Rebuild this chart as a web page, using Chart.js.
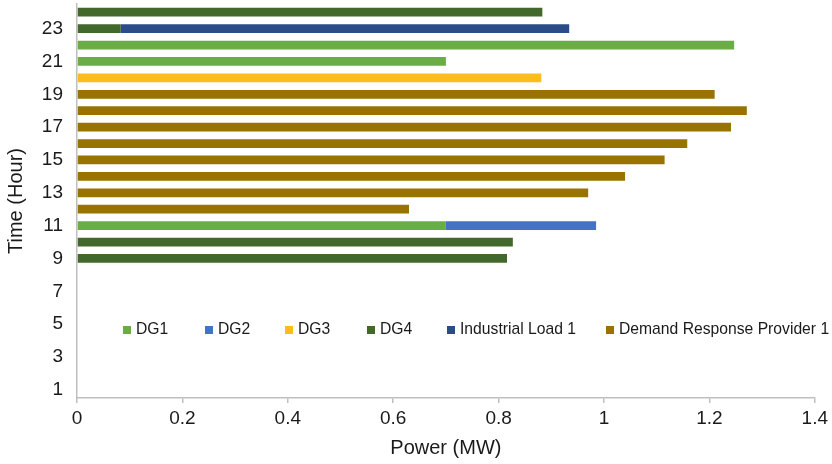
<!DOCTYPE html>
<html>
<head>
<meta charset="utf-8">
<script src="https://cdn.jsdelivr.net/npm/chart.js@4.4.1/dist/chart.umd.min.js"></script>
<style>
  html, body { margin: 0; padding: 0; background: #ffffff; }
  #wrap { width: 832px; height: 464px; position: relative; }
</style>
</head>
<body>
<div id="wrap"><canvas id="c" width="832" height="464"></canvas></div>
<script>
// ---- Data ----
const hours = ['1','2','3','4','5','6','7','8','9','10','11','12','13','14','15','16','17','18','19','20','21','22','23','24'];
const yTickLabels = ['1','3','5','7','9','11','13','15','17','19','21','23'];
const seriesNames = ['DG1', 'DG2', 'DG3', 'DG4', 'Industrial Load 1', 'Demand Response Provider 1'];
//               1     2     3     4     5     6     7     8     9      10     11     12     13     14     15     16     17     18     19     20     21     22     23     24
const dg1  = [null, null, null, null, null, null, null, null, null,  null,  0.700, null,  null,  null,  null,  null,  null,  null,  null,  null,  0.700, 1.247, null,  null ];
const dg2  = [null, null, null, null, null, null, null, null, null,  null,  0.285, null,  null,  null,  null,  null,  null,  null,  null,  null,  null,  null,  null,  null ];
const dg3  = [null, null, null, null, null, null, null, null, null,  null,  null,  null,  null,  null,  null,  null,  null,  null,  null,  0.881, null,  null,  null,  null ];
const dg4  = [null, null, null, null, null, null, null, null, 0.816, 0.827, null,  null,  null,  null,  null,  null,  null,  null,  null,  null,  null,  null,  0.083, 0.883];
const ind1 = [null, null, null, null, null, null, null, null, null,  null,  null,  null,  null,  null,  null,  null,  null,  null,  null,  null,  null,  null,  0.851, null ];
const drp1 = [null, null, null, null, null, null, null, null, null,  null,  null,  0.630, 0.970, 1.040, 1.115, 1.158, 1.241, 1.271, 1.210, null,  null,  null,  null,  null ];

const colors = ['#6AAC45', '#4472C4', '#FCBC1E', '#43682B', '#2C4C88', '#997300'];
const seriesValues = [dg1, dg2, dg3, dg4, ind1, drp1];

const FONT = "'Liberation Sans', Arial, Helvetica, sans-serif";
const TEXT = '#1a1a1a';
const AXIS = '#BFBFBF';

// custom legend drawn inside the plot area (as in the reference)
const insideLegend = {
  id: 'insideLegend',
  afterDraw(chart, args, opts) {
    const ctx = chart.ctx;
    ctx.save();
    ctx.font = opts.fontSize + 'px ' + FONT;
    ctx.textBaseline = 'middle';
    ctx.textAlign = 'left';
    chart.data.datasets.forEach((ds, i) => {
      const x = opts.xs[i];
      const y = opts.y;
      ctx.fillStyle = ds.backgroundColor;
      ctx.fillRect(x, y - opts.box / 2, opts.box, opts.box);
      ctx.fillStyle = TEXT;
      ctx.fillText(ds.label, x + opts.box + 5, y);
    });
    ctx.restore();
  }
};

const datasets = seriesNames.map((name, i) => ({
  label: name,
  data: seriesValues[i],
  backgroundColor: colors[i],
  borderWidth: 0,
  categoryPercentage: 1.0,
  barPercentage: 0.53
}));

new Chart(document.getElementById('c'), {
  type: 'bar',
  data: { labels: hours, datasets: datasets },
  plugins: [insideLegend],
  options: {
    indexAxis: 'y',
    responsive: false,
    animation: false,
    devicePixelRatio: 1,
    layout: { padding: { left: 0, right: 16, top: 4, bottom: 0 } },
    plugins: {
      legend: { display: false },
      tooltip: { enabled: false },
      insideLegend: { xs: [123, 205, 285, 367, 447, 606], y: 330, box: 8, fontSize: 15.7 }
    },
    scales: {
      x: {
        stacked: true,
        min: 0,
        max: 1.4,
        ticks: {
          stepSize: 0.2, color: TEXT, font: { family: FONT, size: 19 }, padding: 4, maxRotation: 0,
          callback(value) { return String(Math.round(value * 10) / 10); }
        },
        grid: { drawOnChartArea: false, drawTicks: true, tickLength: 5, color: AXIS, lineWidth: 1.5 },
        border: { color: AXIS, width: 1.5 },
        title: { display: true, text: 'Power (MW)', color: TEXT, font: { family: FONT, size: 20, lineHeight: 1.2 }, padding: { top: 0, bottom: 4 } },
        afterFit(scale) { scale.height = 66; scale.paddingLeft = 0; }
      },
      y: {
        stacked: true,
        reverse: true,
        ticks: {
          autoSkip: false,
          color: TEXT,
          font: { family: FONT, size: 19 },
          padding: 14,
          callback(value) { const l = hours[value]; return yTickLabels.includes(l) ? l : ''; }
        },
        grid: { display: false, drawTicks: false },
        border: { color: AXIS, width: 1.5 },
        title: { display: true, text: 'Time (Hour)', color: TEXT, font: { family: FONT, size: 20, lineHeight: 1.2 }, padding: { top: 4, bottom: 0 } },
        afterFit(scale) { scale.width = 77; scale.paddingTop = 0; scale.paddingBottom = 0; }
      }
    }
  }
});
</script>
</body>
</html>
